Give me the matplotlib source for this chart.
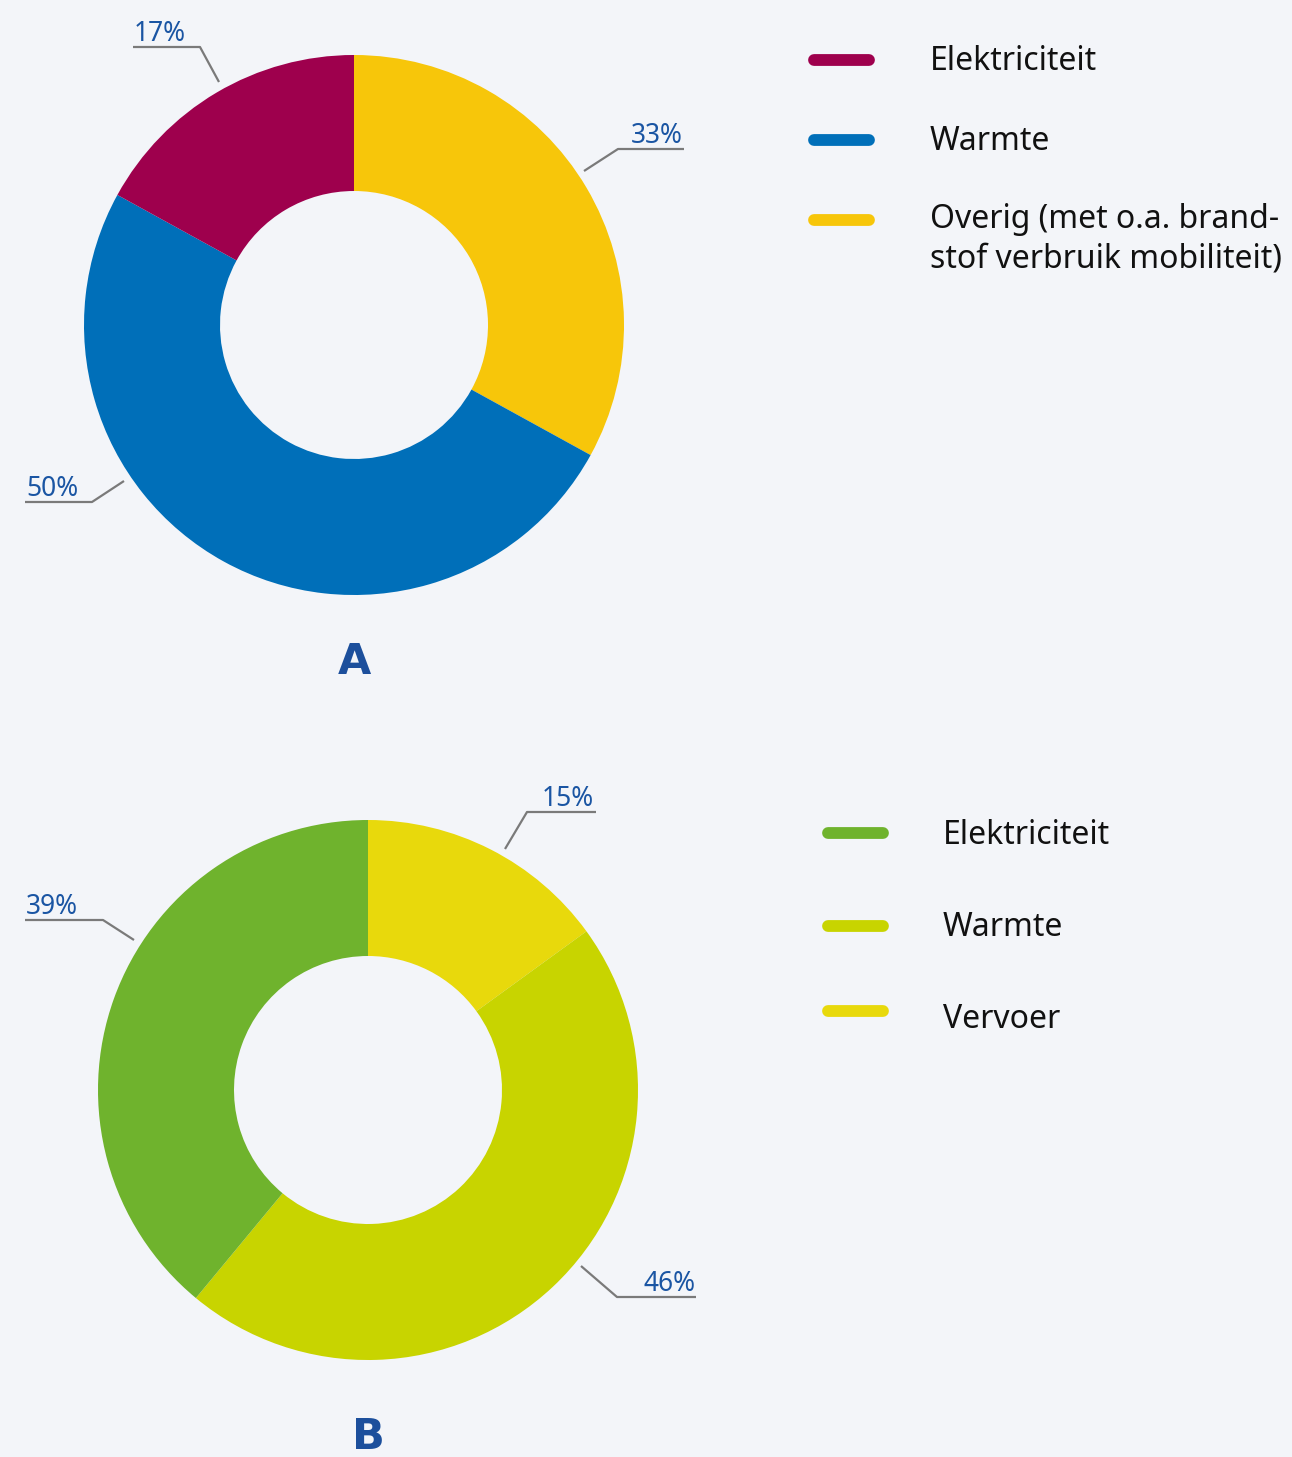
import matplotlib.pyplot as plt

# chart A
labels_a = ['Elektriciteit', 'Warmte', 'Overig (met o.a. brand-\nstof verbruik mobiliteit)']
values_a = [17, 50, 33]
colors_a = ['#9E004D', '#006FB9', '#F7C60A']

# chart B
labels_b = ['Elektriciteit', 'Warmte', 'Vervoer']
values_b = [39, 46, 15]
colors_b = ['#6FB32D', '#C8D400', '#E8D90C']

W, H = 1292, 1457
bg = '#F3F5F9'
txtblue = '#1A55A3'
grey = '#7A7A7A'

plt.rcParams['font.family'] = ['Noto Sans', 'DejaVu Sans']

fig = plt.figure(figsize=(W / 100, H / 100), dpi=100, facecolor=bg)
ax = fig.add_axes([0, 0, 1, 1])
ax.set_facecolor(bg)


def donut(center, values, colors):
    # clockwise from 12 o'clock on screen (y axis is flipped later)
    vals = values[::-1]
    cols = colors[::-1]
    ax.pie(vals, colors=cols, startangle=-90, counterclock=True,
           center=center, radius=270,
           wedgeprops=dict(width=136, linewidth=0))


def leader(text, pts, ha, tx):
    xs = [p[0] for p in pts]
    ys = [p[1] for p in pts]
    ax.plot(xs, ys, color=grey, lw=1.6, solid_capstyle='butt')
    ax.text(tx, pts[0][1] - 6, text, ha=ha, va='baseline', color=txtblue,
            fontsize=19, fontweight='medium')


def legend(x_line, x_text, ys, labels, colors, text_dy):
    for y, lab, c, dy in zip(ys, labels, colors, text_dy):
        ax.plot([x_line, x_line + 55], [y, y], color=c, lw=8.5, solid_capstyle='round')
        ax.text(x_text, y + dy, lab, ha='left', va='center', color='#111111',
                fontsize=23, linespacing=1.25)


# ---- A
donut((354, 325), values_a, colors_a)
# ---- B
donut((368, 1090), values_b, colors_b)

ax.set_aspect('auto')
ax.set_xlim(0, W)
ax.set_ylim(H, 0)
ax.axis('off')

leader('17%', [(133, 47), (200, 47), (219, 82)], 'left', 134)
leader('33%', [(684, 149), (618, 149), (584, 171)], 'right', 683)
leader('50%', [(25, 502), (92, 502), (124, 481)], 'left', 26)
legend(814, 930, [60, 140, 220], labels_a, colors_a, [2, 1, 19])
ax.text(354, 662, 'A', ha='center', va='center', color='#1C4F9C',
        fontsize=31, fontweight='bold', family='DejaVu Sans')

leader('15%', [(596, 812), (527, 812), (505, 849)], 'right', 594)
leader('39%', [(25, 920), (103, 920), (134, 940)], 'left', 26)
leader('46%', [(696, 1297), (617, 1297), (581, 1266)], 'right', 695)
legend(828, 943, [833, 926, 1011], labels_b, colors_b, [2, 1, 8])
ax.text(368, 1437, 'B', ha='center', va='center', color='#1C4F9C',
        fontsize=31, fontweight='bold', family='DejaVu Sans')

fig.savefig('out.png', dpi=100, facecolor=bg)
